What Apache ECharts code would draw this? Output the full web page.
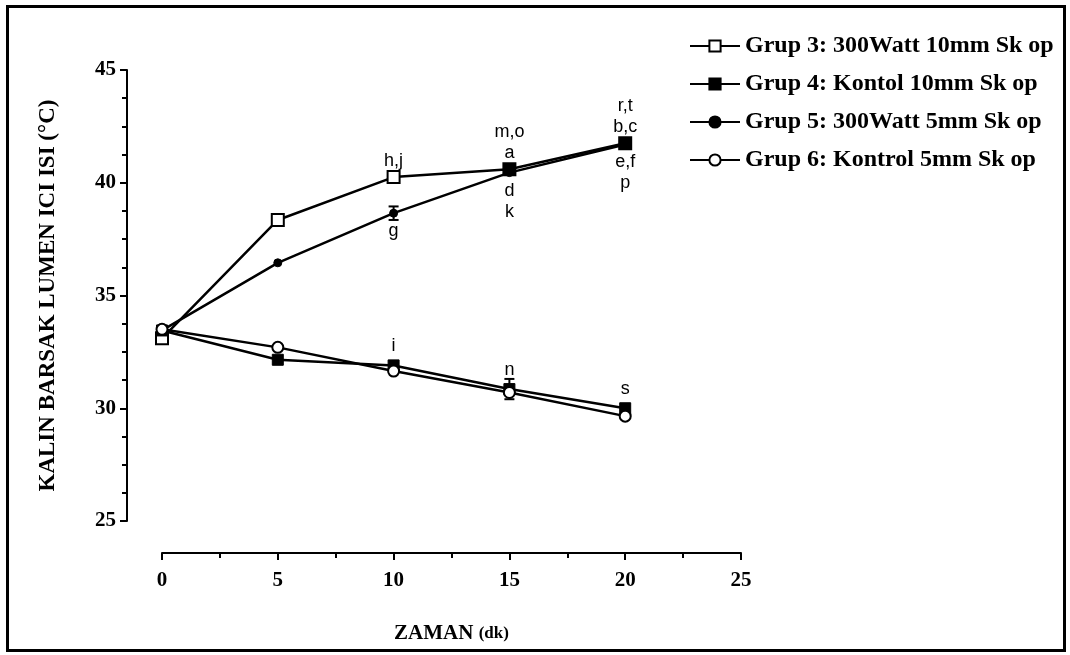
<!DOCTYPE html>
<html><head><meta charset="utf-8">
<script src="https://cdn.jsdelivr.net/npm/echarts@6/dist/echarts.min.js"></script>
<style>html,body{margin:0;padding:0;background:#fff}#c{width:1070px;height:655px}</style>
</head><body><div id="c"></div>
<script>
// ---- data ----
const times = [0, 5, 10, 15, 20];
const seriesNames = ['Grup 3: 300Watt 10mm Sk op', 'Grup 4: Kontol 10mm Sk op', 'Grup 5: 300Watt 5mm Sk op', 'Grup 6: Kontrol 5mm Sk op'];
const grup3 = [33.1, 38.35, 40.25, 40.6, 41.75];
const grup4 = [33.45, 32.15, 31.9, 30.85, 30.0];
const grup5 = [33.45, 36.45, 38.65, 40.45, 41.7];
const grup6 = [33.5, 32.7, 31.65, 30.7, 29.65];
const grup3Letters = ['', '', 'h,j', 'm,o\na', 'r,t\nb,c'];
const grup5Letters = ['', '', 'g', 'd\nk', 'e,f\np'];
const grup4Letters = ['', '', 'i', 'n', 's'];
const grup5Err = [0, 0, 0.3, 0, 0];
const grup4Err = [0, 0, 0, 0.45, 0];
const xTicks = [0, 5, 10, 15, 20, 25];
const yTicks = [25, 30, 35, 40, 45];
const xTitle = 'ZAMAN';
const xUnit = '(dk)';
const yTitle = 'KALIN BARSAK LUMEN ICI ISI (°C)';

// ---- chart ----
const chart = echarts.init(document.getElementById('c'), null, {renderer: 'canvas'});
const serif = 'Liberation Serif';
const sans = 'Liberation Sans';
const pair = arr => times.map((t, i) => [t, arr[i]]);
function errSeries(vals, errs) {
  const d = [];
  times.forEach((t, i) => { if (errs[i] > 0) d.push([t, vals[i], errs[i]]); });
  return {
    type: 'custom', z: 1, silent: true,
    renderItem: (params, api) => {
      const x = api.value(0), y = api.value(1), e = api.value(2);
      const top = api.coord([x, y + e]), bot = api.coord([x, y - e]);
      const w = 5;
      const st = {stroke: '#000', lineWidth: 2};
      return {type: 'group', children: [
        {type: 'line', shape: {x1: top[0], y1: top[1], x2: bot[0], y2: bot[1]}, style: st},
        {type: 'line', shape: {x1: top[0] - w, y1: top[1], x2: top[0] + w, y2: top[1]}, style: st},
        {type: 'line', shape: {x1: bot[0] - w, y1: bot[1], x2: bot[0] + w, y2: bot[1]}, style: st}
      ]};
    },
    data: d
  };
}
const labelBase = {show: true, color: '#000', fontFamily: sans, fontSize: 18, lineHeight: 21};
const lineBase = {type: 'line', lineStyle: {color: '#000', width: 2.5}, z: 3};

const option = {
  animation: false,
  backgroundColor: '#fff',
  grid: {left: 162, right: 329, top: 70, bottom: 134, containLabel: false},
  xAxis: {
    type: 'value', min: xTicks[0], max: xTicks[xTicks.length - 1], interval: xTicks[1] - xTicks[0],
    offset: 32,
    axisLine: {show: true, onZero: false, lineStyle: {color: '#000', width: 2}},
    axisTick: {show: true, length: 7, lineStyle: {color: '#000', width: 2}},
    minorTick: {show: true, splitNumber: 2, length: 5, lineStyle: {color: '#000', width: 2}},
    splitLine: {show: false},
    axisLabel: {color: '#000', fontFamily: serif, fontWeight: 'bold', fontSize: 21, margin: 17},
    nameLocation: 'middle', nameGap: 70,
    nameTextStyle: {color: '#000', fontFamily: serif, fontWeight: 'bold', fontSize: 21}
  },
  yAxis: {
    type: 'value', min: yTicks[0], max: yTicks[yTicks.length - 1], interval: yTicks[1] - yTicks[0],
    offset: 35,
    axisLine: {show: true, onZero: false, lineStyle: {color: '#000', width: 2}},
    axisTick: {show: true, length: 7, lineStyle: {color: '#000', width: 2}},
    minorTick: {show: true, splitNumber: 4, length: 5, lineStyle: {color: '#000', width: 2}},
    splitLine: {show: false},
    axisLabel: {color: '#000', fontFamily: serif, fontWeight: 'bold', fontSize: 21, margin: 11},
    name: yTitle, nameLocation: 'middle', nameGap: 67, nameRotate: 90,
    nameTextStyle: {color: '#000', fontFamily: serif, fontWeight: 'bold', fontSize: 23}
  },
  legend: {
    orient: 'vertical', left: 684, top: 29, itemWidth: 50, itemHeight: 14, itemGap: 14,
    textStyle: {color: '#000', fontFamily: serif, fontWeight: 'bold', fontSize: 24},
    data: seriesNames
  },
  graphic: [{type: 'rect', shape: {x: 7.5, y: 6.5, width: 1057, height: 644},
    style: {fill: 'none', stroke: '#000', lineWidth: 3}, z: 100}],
  series: [
    Object.assign({}, lineBase, {
      name: seriesNames[0], symbol: 'rect', symbolSize: 12,
      itemStyle: {color: '#fff', borderColor: '#000', borderWidth: 2},
      data: pair(grup3).map((p, i) => i >= 3 ? {value: p, itemStyle: {color: '#000'}} : p),
      label: Object.assign({}, labelBase, {position: 'top', distance: -1, formatter: p => grup3Letters[p.dataIndex]})
    }),
    Object.assign({}, lineBase, {
      name: seriesNames[1], symbol: 'rect', symbolSize: 11,
      itemStyle: {color: '#000', borderColor: '#000', borderWidth: 1},
      data: pair(grup4),
      label: Object.assign({}, labelBase, {position: 'top', distance: 3, formatter: p => grup4Letters[p.dataIndex]})
    }),
    Object.assign({}, lineBase, {
      name: seriesNames[2], symbol: 'circle', symbolSize: 8,
      itemStyle: {color: '#000', borderColor: '#000', borderWidth: 1},
      data: pair(grup5),
      label: Object.assign({}, labelBase, {position: 'bottom', distance: 3, formatter: p => grup5Letters[p.dataIndex]})
    }),
    Object.assign({}, lineBase, {
      name: seriesNames[3], symbol: 'circle', symbolSize: 11,
      itemStyle: {color: '#fff', borderColor: '#000', borderWidth: 2},
      data: pair(grup6)
    }),
    errSeries(grup5, grup5Err),
    errSeries(grup4, grup4Err)
  ]
};
option.xAxis.name = '{a|' + xTitle + '} {b|' + xUnit + '}';
option.xAxis.nameTextStyle.rich = {
  a: {fontFamily: serif, fontWeight: 'bold', fontSize: 21, color: '#000'},
  b: {fontFamily: serif, fontWeight: 'bold', fontSize: 17, color: '#000'}
};
chart.setOption(option);
</script></body></html>
